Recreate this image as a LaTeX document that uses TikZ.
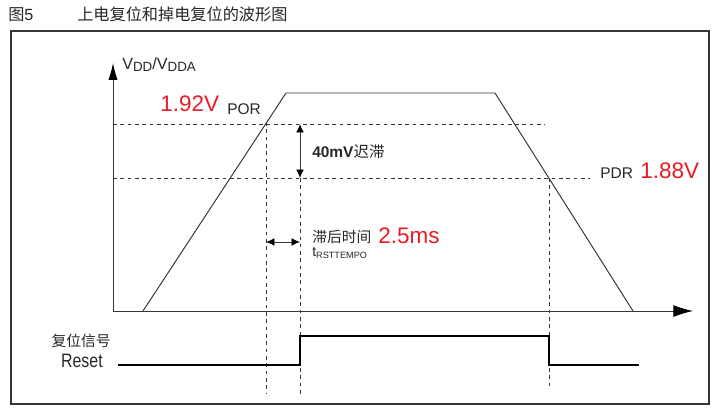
\documentclass[tikz,border=0pt]{standalone}
\usepackage{fontspec}
\setmainfont{Liberation Sans}
\newfontfamily\cjk{Noto Sans CJK SC}
\newfontfamily\narrowfont[FakeStretch=0.82]{Liberation Sans}
\usetikzlibrary{arrows.meta}
\definecolor{ink}{RGB}{55,55,55}
\definecolor{valred}{RGB}{232,28,36}

\begin{document}
\begin{tikzpicture}[x=0.025cm, y=-0.025cm,
  axis/.style={draw=ink, line width=0.7pt},
  guide/.style={draw=ink, line width=0.6pt, dash pattern=on 2.6pt off 2.6pt},
  wave/.style={draw=ink, line width=0.7pt},
  pulse/.style={draw=black, line width=1.6pt},
  span/.style={draw=ink, line width=0.6pt, {Latex[length=6pt, width=5.5pt, color=black]}-{Latex[length=6pt, width=5.5pt, color=black]}},
  lbl/.style={inner sep=0pt, text=black!85, font=\fontsize{11}{13}\selectfont},
  value/.style={inner sep=0pt, text=valred, font=\fontsize{16}{18}\selectfont}]

  \useasboundingbox (0,0) rectangle (724,414);

  % Title and frame
  \node[lbl, anchor=base west, font=\fontsize{11.5}{13}\selectfont] (fignum) at (8,21) {{\cjk 图}5};
  \node[lbl, anchor=base west, font=\fontsize{11.5}{13}\selectfont] (title) at (77,21) {\cjk 上电复位和掉电复位的波形图};
  \draw[ink, line width=0.8pt] (11,31) rectangle (709,404);

  % Axes
  \coordinate (O) at (113,311);
  \coordinate (Ytip) at (113,63);
  \coordinate (Xtip) at (693,311);
  \draw[axis, -{Latex[length=12pt, width=6.5pt, color=black]}] (O) -- (Ytip);
  \draw[axis, -{Latex[length=14pt, width=8.5pt, color=black]}] (O) -- (Xtip);

  % Supply ramp
  \coordinate (R0) at (143,311);
  \coordinate (R1) at (286,93);
  \coordinate (R2) at (495,93);
  \coordinate (R3) at (633,311);
  \draw[wave] (R0) -- (R1) -- (R2) -- (R3);

  % Threshold lines
  \coordinate (Hpor0) at (113,124);
  \coordinate (Hpor1) at (545,124);
  \coordinate (Hpdr0) at (113,178);
  \coordinate (Hpdr1) at (590,178);
  \draw[guide] (Hpor0) -- (Hpor1);
  \draw[guide] (Hpdr0) -- (Hpdr1);

  % Time markers
  \coordinate (Vpor0) at (266,122);
  \coordinate (Vpor1) at (266,393);
  \coordinate (Vdly0) at (300,178);
  \coordinate (Vdly1) at (300,397);
  \coordinate (Vpdr0) at (549,178);
  \coordinate (Vpdr1) at (549,386);
  \draw[guide] (Vpor0) -- (Vpor1);
  \draw[guide] (Vdly0) -- (Vdly1);
  \draw[guide] (Vpdr0) -- (Vpdr1);

  % Hysteresis and delay arrows
  \coordinate (Hys0) at (300,124);
  \coordinate (Hys1) at (300,178);
  \draw[span] (Hys0) -- (Hys1);
  \coordinate (Dly0) at (266,242);
  \coordinate (Dly1) at (300,242);
  \draw[span] (Dly0) -- (Dly1);

  % Reset signal
  \coordinate (S0) at (118,365);
  \coordinate (S1) at (300,365);
  \coordinate (S2) at (300,336);
  \coordinate (S3) at (549,336);
  \coordinate (S4) at (549,365);
  \coordinate (S5) at (639,365);
  \draw[pulse] (S0) -- (S1) -- (S2) -- (S3) -- (S4) -- (S5);

  % Labels
  \node[lbl, anchor=base west, font=\fontsize{11.5}{13}\selectfont] (vdd) at (122,69)
    {V\raisebox{-0.3ex}{\fontsize{9.5}{11}\selectfont DD}/V\raisebox{-0.3ex}{\fontsize{9.5}{11}\selectfont DDA}};
  \node[value, anchor=base west] (porv) at (160,111) {1.92V};
  \node[lbl, anchor=base west] (por) at (227,114) {POR};
  \node[lbl, anchor=base west, font=\fontsize{11}{12}\selectfont] (hys) at (312,157) {\textbf{40mV}{\cjk 迟滞}};
  \node[lbl, anchor=base west] (pdr) at (600,178) {PDR};
  \node[value, anchor=base west] (pdrv) at (640,178) {1.88V};
  \node[lbl, anchor=base west, font=\fontsize{10.5}{12}\selectfont] (dly) at (312,242) {\cjk 滞后时间};
  \node[value, anchor=base west] (dlyv) at (378,243) {2.5ms};
  \node[lbl, anchor=base west, font=\fontsize{10}{12}\selectfont] (trst) at (312,256)
    {t\raisebox{-0.35ex}{\fontsize{6.5}{8}\selectfont RSTTEMPO}};
  \node[lbl, anchor=base east, font=\fontsize{10.5}{12}\selectfont] (rstcn) at (111,346) {\cjk 复位信号};
  \node[lbl, anchor=base east, font=\fontsize{13.8}{15}\narrowfont] (rst) at (103,367) {Reset};

\end{tikzpicture}
\end{document}
